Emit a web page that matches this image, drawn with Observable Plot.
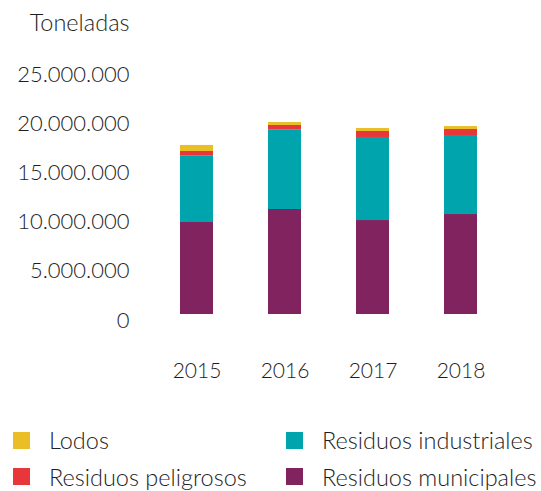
<!DOCTYPE html>
<html>
<head>
<meta charset="utf-8">
<script src="https://cdn.jsdelivr.net/npm/d3@7"></script>
<script src="https://cdn.jsdelivr.net/npm/@observablehq/plot@0.6"></script>
<style>
  html, body { margin: 0; padding: 0; background: #fff; }
  body { width: 541px; height: 491px; overflow: hidden; font-family: Lato, "Open Sans", sans-serif; font-weight: 300; color: #1e1e1e; }
  #legend { display: grid; grid-template-columns: 273px auto; margin-top: 22px; padding-left: 13px; }
  .item { display: flex; align-items: center; height: 36.6px; font-size: 23.5px; white-space: nowrap; }
  .sw { width: 17px; height: 17px; margin-right: 19px; flex: none; }
</style>
</head>
<body>
<div id="chart"></div>
<div id="legend"></div>
<script>
const years = ["2015", "2016", "2017", "2018"];
const series = ["Residuos municipales", "Residuos industriales", "Residuos peligrosos", "Lodos"];
const municipales = [9350000, 10670000, 9550000, 10160000];
const industriales = [6740000, 8060000, 8440000, 8030000];
const peligrosos = [480000, 480000, 610000, 610000];
const lodos = [610000, 300000, 300000, 300000];
const yTicks = [0, 5000000, 10000000, 15000000, 20000000, 25000000];
const colors = ["#80235F", "#00A4AC", "#E8373A", "#E9BF25"];
const legendOrder = ["Lodos", "Residuos industriales", "Residuos peligrosos", "Residuos municipales"];
const yTitle = "Toneladas";

const valuesBySeries = [municipales, industriales, peligrosos, lodos];
const data = [];
series.forEach((s, i) => years.forEach((y, j) => data.push({year: y, series: s, value: valuesBySeries[i][j]})));

const fmt = d3.formatLocale({decimal: ",", thousands: ".", grouping: [3], currency: ["", ""]}).format(",");

const chart = Plot.plot({
  width: 541,
  height: 400,
  marginTop: 68,
  marginBottom: 86,
  marginLeft: 133,
  marginRight: 0,
  style: {fontFamily: "Lato, 'Open Sans', sans-serif", fontWeight: 300, fontSize: "21px", color: "#1e1e1e", background: "#fff"},
  x: {domain: years, range: [123.3, 533.7], padding: 0.628, label: null},
  y: {domain: [0, 25000000], label: null},
  color: {domain: series, range: colors},
  marks: [
    Plot.barY(data, {x: "year", y: "value", fill: "series", order: series}),
    Plot.axisY({ticks: yTicks, tickSize: 0, tickPadding: 4, tickFormat: fmt, dy: 6, label: null, fontSize: 22}),
    Plot.axisX({tickSize: 0, tickPadding: 49, label: null, fontSize: 21}),
    Plot.text([yTitle], {text: d => d, frameAnchor: "top-left", textAnchor: "end", dx: -4, dy: -54, fontSize: 23.5})
  ]
});
document.getElementById("chart").appendChild(chart);

const legend = document.getElementById("legend");
legendOrder.forEach(name => {
  const item = document.createElement("div");
  item.className = "item";
  const sw = document.createElement("span");
  sw.className = "sw";
  sw.style.background = colors[series.indexOf(name)];
  const label = document.createElement("span");
  label.textContent = name;
  item.appendChild(sw);
  item.appendChild(label);
  legend.appendChild(item);
});
</script>
</body>
</html>
